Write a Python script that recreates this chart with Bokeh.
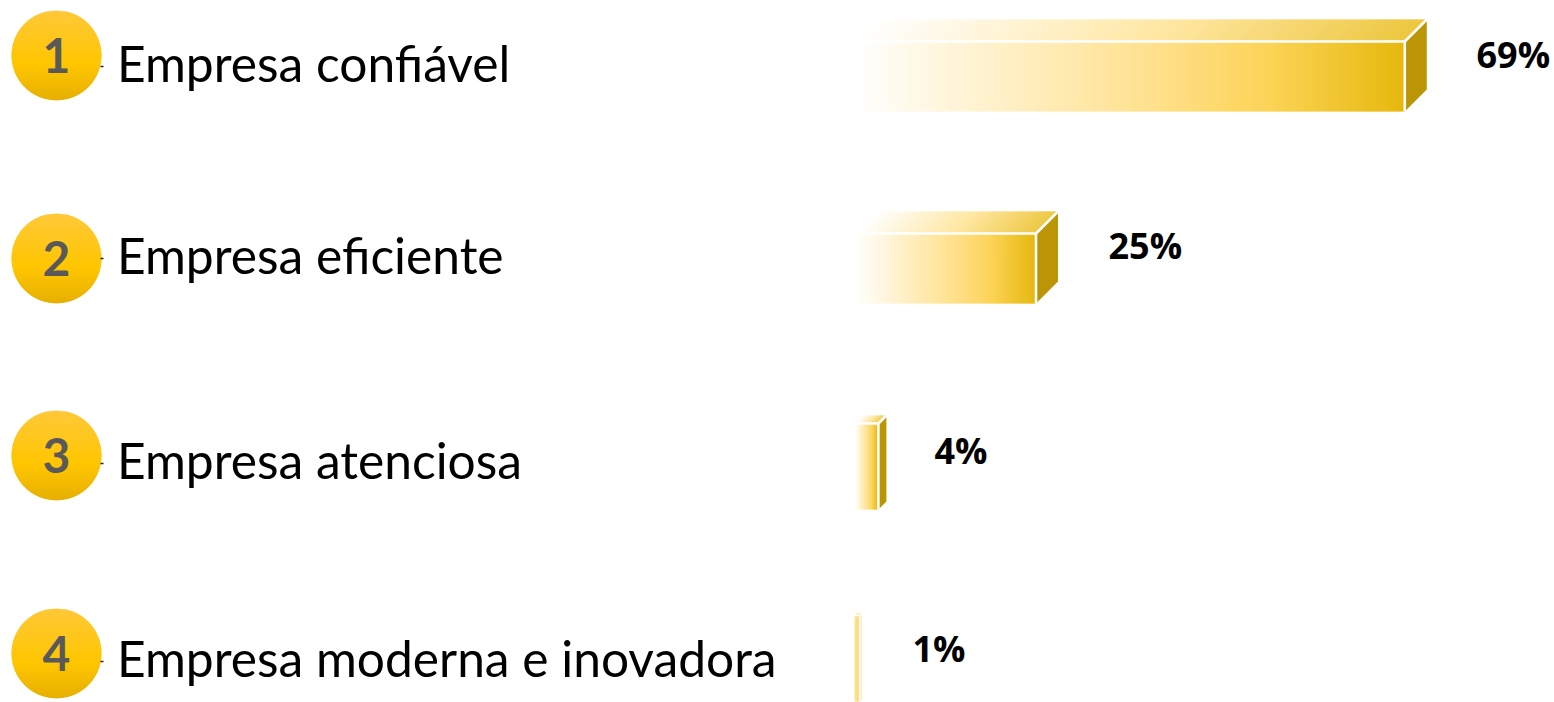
from bokeh.plotting import figure
from bokeh.models import Range1d
from bokeh.core.properties import value
from bokeh.embed import file_html
from bokeh.resources import INLINE

# Data
ranks = ["1", "2", "3", "4"]
categories = ["Empresa confiável", "Empresa eficiente", "Empresa atenciosa", "Empresa moderna e inovadora"]
pct_labels = ["69%", "25%", "4%", "1%"]
bar_lengths = [69.13, 22.8, 3.0, 0.65]   # drawn length of each bar

# Layout (screen pixels)
W, H, M = 1554, 702, 1
X0, SCALE = 855.0, 7.96
bar_top = [42, 234, 424, 616]
bar_bot = [112, 304, 510, 702]
depth = [22, 22, 8, 2]
grad_start = [0, 0, 0, 0.5]
side_colors = ["#bc9506", "#bc9506", "#bc9506", "#f8e8b8"]
circle_y = [56, 259, 456, 654]
label_y = [63, 255, 460, 658]
pct_y = [55, 246, 451, 649]
pct_x = [1477, 1109, 935, 913]
CX, R = 57, 45


def px(x):
    return (x - X0) / SCALE


def lerp(stops, t):
    for (a, ca), (b, cb) in zip(stops, stops[1:]):
        if t <= b:
            k = (t - a) / (b - a) if b > a else 0
            return "#%02x%02x%02x" % tuple(round(u + (v - u) * k) for u, v in zip(ca, cb))
    return "#%02x%02x%02x" % stops[-1][1]


FRONT = [(0, (255, 255, 255)), (0.55, (255, 224, 140)), (0.75, (252, 212, 88)), (1, (230, 184, 14))]
TOP = [(0, (255, 255, 255)), (0.55, (255, 230, 160)), (0.8, (245, 212, 105)), (1, (236, 198, 60))]
CIRC = [(0, (255, 200, 56)), (0.6, (255, 198, 0)), (1, (230, 176, 0))]

p = figure(width=W, height=H, output_backend="svg", toolbar_location=None,
           x_range=Range1d(px(M), px(W + M)), y_range=Range1d(H + M, M),
           min_border=0, outline_line_color=None, background_fill_color="white",
           border_fill_color="white")
p.axis.visible = False
p.grid.visible = False

for i, length in enumerate(bar_lengths):
    top, bot, d = bar_top[i], bar_bot[i], depth[i] / SCALE
    dpx = depth[i]
    # Gradient strips, one pixel wide, along the front and the top face
    n = max(int(round(length * SCALE)), 2)
    step = length / n
    fl, fr, fc, xs, ys, tc = [], [], [], [], [], []
    for k in range(n):
        t = grad_start[i] + (1 - grad_start[i]) * 0.4 * k / (n - 1) if grad_start[i] else k / (n - 1)
        a, b = k * step, min((k + 1.6) * step, length)
        fl.append(a); fr.append(b); fc.append(lerp(FRONT, t))
        xs.append([a, b, b + d, a + d])
        ys.append([top, top, top - dpx, top - dpx])
        tc.append(lerp(TOP, t))
    p.patches(xs, ys, fill_color=tc, line_color=None)
    p.quad(left=fl, right=fr, top=[top] * n, bottom=[bot] * n, fill_color=fc, line_color=None)
    # Side face
    p.patch([length, length + d, length + d, length], [top, top - dpx, bot - dpx, bot],
            fill_color=side_colors[i], line_color=None)
    # White edges between the faces
    lw = 2.6 if dpx > 4 else 1.6
    p.multi_line([[0, length], [length, length], [length, length + d]],
                 [[top, top], [top, bot], [top, top - dpx]], line_color="white", line_width=lw)

    # Medallion
    cy = circle_y[i]
    xs, ys, cc = [], [], []
    rows = 2 * R
    for k in range(rows):
        y0, y1 = cy - R + k, min(cy - R + k + 1.6, cy + R)
        h0 = max(R ** 2 - (y0 - cy) ** 2, 0) ** 0.5
        h1 = max(R ** 2 - (y1 - cy) ** 2, 0) ** 0.5
        xs.append([px(CX - h0), px(CX + h0), px(CX + h1), px(CX - h1)])
        ys.append([y0, y0, y1, y1])
        cc.append(lerp(CIRC, k / (rows - 1)))
    p.patches(xs, ys, fill_color=cc, line_color=None)
    p.segment([px(101)], [label_y[i] + 4], [px(104)], [label_y[i] + 4], line_color="#222222", line_width=1.5)

p.text([px(CX)] * 4, circle_y, text=ranks, text_font=value("Lato"), text_font_style="bold",
       text_font_size="48px", text_color="#595959", text_align="center", text_baseline="middle")
p.text([px(117.5)] * 4, label_y, text=categories, text_font=value("Lato"), text_font_size="49.7px",
       text_color="#000000", text_align="left", text_baseline="middle")
p.text([px(v) for v in pct_x], pct_y, text=pct_labels, text_font=value("Open Sans"), text_font_style="bold",
       text_font_size="36px", text_color="#000000", text_align="left", text_baseline="middle")

open("out.html", "w").write(file_html(p, INLINE))
